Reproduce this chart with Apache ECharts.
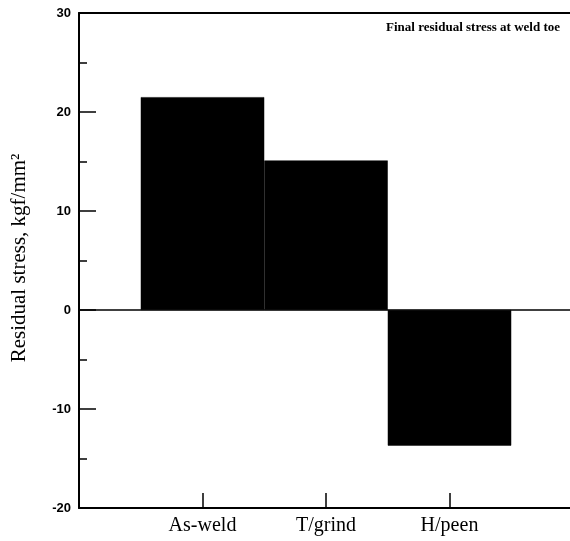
<!DOCTYPE html>
<html>
<head>
<meta charset="utf-8">
<script src="https://cdn.jsdelivr.net/npm/echarts@6/dist/echarts.min.js"></script>
<style>
  html, body { margin: 0; padding: 0; background: #fff; }
  #chart { width: 570px; height: 541px; }
</style>
</head>
<body>
<div id="chart"></div>
<script>
// blank slots at both ends put the three bars at 1/4, 2/4, 3/4 of the axis
const categories = ['', 'As-weld', 'T/grind', 'H/peen', ''];
const stressValues = ['-', 21.5, 15.1, -13.7, '-'];
const yTicks = [-20, -10, 0, 10, 20, 30];

const chart = echarts.init(document.getElementById('chart'));

const options = {
  animation: false,
  grid: { left: 79, right: -3, top: 13, bottom: 33, outerBoundsMode: 'none' },
  graphic: [{
    type: 'text',
    rotation: Math.PI / 2,
    x: 19, y: 258,
    style: {
      text: 'Residual stress, kgf/mm²',
      font: '21px "Liberation Serif"',
      fill: '#000',
      align: 'center',
      verticalAlign: 'middle',
    },
  }, {
    type: 'text',
    right: 10,
    top: 21,
    style: {
      text: 'Final residual stress at weld toe',
      font: 'bold 13px "Liberation Serif"',
      fill: '#000',
    },
  }],
  xAxis: [{
    type: 'category',
    data: categories,
    boundaryGap: false,
    position: 'bottom',
    axisLine: { onZero: false, lineStyle: { color: '#000', width: 2 } },
    axisTick: {
      inside: true,
      length: 15,
      interval: (i, v) => v !== '',
      lineStyle: { color: '#000', width: 1.5 },
    },
    axisLabel: {
      interval: 0,
      margin: 8,
      color: '#000',
      fontFamily: 'Liberation Serif',
      fontSize: 20,
    },
    splitLine: { show: false },
  }, {
    type: 'category',
    data: categories,
    boundaryGap: false,
    position: 'top',
    axisLine: { onZero: false, lineStyle: { color: '#000', width: 2 } },
    axisTick: { show: false },
    axisLabel: { show: false },
  }],
  yAxis: {
    type: 'value',
    min: yTicks[0],
    max: yTicks[yTicks.length - 1],
    interval: 10,
    axisLine: { show: true, lineStyle: { color: '#000', width: 2 } },
    axisTick: { show: true, inside: true, length: 17, lineStyle: { color: '#000', width: 1.5 } },
    minorTick: { show: true, splitNumber: 2, length: 8, lineStyle: { color: '#000', width: 1.5 } },
    axisLabel: {
      margin: 8,
      color: '#000',
      fontFamily: 'Liberation Sans',
      fontWeight: 'bold',
      fontSize: 13,
    },
    splitLine: { show: false },
  },
  series: [{
    type: 'bar',
    data: stressValues,
    barWidth: '100%',
    itemStyle: { color: '#000', borderColor: '#000', borderWidth: 0.5 },
    markLine: {
      silent: true,
      symbol: 'none',
      label: { show: false },
      lineStyle: { color: '#000', width: 1.5, type: 'solid' },
      data: [{ yAxis: 0 }],
    },
  }],
};

chart.setOption(options);
</script>
</body>
</html>
